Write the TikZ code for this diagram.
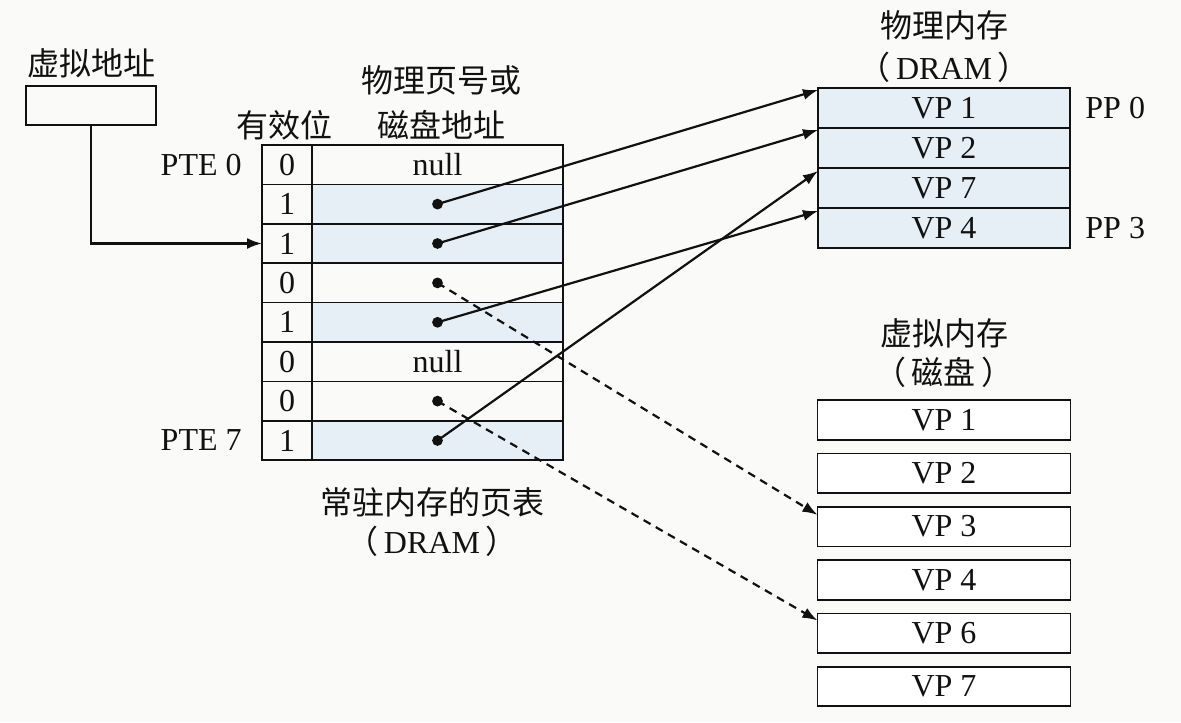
\documentclass[tikz,border=0pt]{standalone}
\usepackage{fontspec}
\setmainfont{Liberation Serif}
\newfontfamily\cjk{Noto Sans CJK SC}
\usetikzlibrary{arrows.meta, positioning}
\definecolor{paper}{HTML}{FAFAF8}
\definecolor{cellblue}{HTML}{E6EFF6}
\definecolor{ink}{HTML}{111111}
\newcommand{\zh}[1]{{\cjk #1}}
\newcommand{\lpar}{\zh{（}\,}
\newcommand{\rpar}{\,\zh{）}}
\tikzset{
  cell/.style={draw=ink, line width=0.85pt, outer sep=0pt, inner sep=0pt, text=ink},
  vbit/.style={cell, minimum width=25pt, minimum height=19.7pt},
  addr/.style={cell, minimum width=125.5pt, minimum height=19.7pt},
  mapped/.style={addr, fill=cellblue},
  ppage/.style={cell, fill=cellblue, minimum width=126pt, minimum height=20pt},
  dpage/.style={cell, fill=white, minimum width=126.5pt, minimum height=19.75pt},
  caption/.style={inner sep=0pt, text=ink},
  ptr/.style={draw=ink, line width=1.1pt, -{Latex[length=7.5pt, width=5.5pt]}},
  ondisk/.style={ptr, dash pattern=on 4pt off 3pt},
}

\begin{document}
\begin{tikzpicture}[x=0.5pt, y=-0.5pt, font=\fontsize{16}{19}\selectfont]
\fill[paper] (0,0) rectangle (1181,722);
\useasboundingbox (0,0) rectangle (1181,722);
% virtual address
\node[caption] (vacap) at (91,63) {\zh{虚拟地址}};
\node[cell, minimum width=65pt, minimum height=19.5pt] (va) at (91,105.5) {};
% page table
\node[caption] (hvalid) at (284,125) {\zh{有效位}};
\node[caption] (haddr1) at (441,80) {\zh{物理页号或}};
\node[caption] (haddr2) at (441,125) {\zh{磁盘地址}};
\node[vbit] (v0) at (287,164.7) {0};
\node[addr, right=0pt of v0] (a0) {null};
\node[vbit, below=0pt of v0] (v1) {1};
\node[mapped, right=0pt of v1] (a1) {};
\node[vbit, below=0pt of v1] (v2) {1};
\node[mapped, right=0pt of v2] (a2) {};
\node[vbit, below=0pt of v2] (v3) {0};
\node[addr, right=0pt of v3] (a3) {};
\node[vbit, below=0pt of v3] (v4) {1};
\node[mapped, right=0pt of v4] (a4) {};
\node[vbit, below=0pt of v4] (v5) {0};
\node[addr, right=0pt of v5] (a5) {null};
\node[vbit, below=0pt of v5] (v6) {0};
\node[addr, right=0pt of v6] (a6) {};
\node[vbit, below=0pt of v6] (v7) {1};
\node[mapped, right=0pt of v7] (a7) {};
\node[caption, left=10pt of v0] (pte0) {PTE 0};
\node[caption, left=10pt of v7] (pte7) {PTE 7};
\node[caption] (ptcap1) at (432,502) {\zh{常驻内存的页表}};
\node[caption] (ptcap2) at (432,541) {\lpar DRAM\rpar};
% physical memory
\node[caption] (pmcap1) at (944,25) {\zh{物理内存}};
\node[caption] (pmcap2) at (944,67) {\lpar DRAM\rpar};
\node[ppage] (p0) at (944,108) {VP 1};
\node[ppage, below=0pt of p0] (p1) {VP 2};
\node[ppage, below=0pt of p1] (p2) {VP 7};
\node[ppage, below=0pt of p2] (p3) {VP 4};
\node[caption, right=7.5pt of p0] (pp0) {PP 0};
\node[caption, right=7.5pt of p3] (pp3) {PP 3};
% virtual memory on disk
\node[caption] (vmcap1) at (944,333) {\zh{虚拟内存}};
\node[caption] (vmcap2) at (944,372) {\lpar\zh{磁盘}\rpar};
\node[dpage] (d0) at (944,420) {VP 1};
\node[dpage, below=6.9pt of d0] (d1) {VP 2};
\node[dpage, below=6.9pt of d1] (d2) {VP 3};
\node[dpage, below=6.9pt of d2] (d3) {VP 4};
\node[dpage, below=6.9pt of d3] (d4) {VP 6};
\node[dpage, below=6.9pt of d4] (d5) {VP 7};
% pointers
\draw[ptr] (va.south) |- (v2.west);
\foreach \r in {1,2,3,4,6,7} \fill[ink] (a\r) circle (2.7pt);
\draw[ptr] (a1.center) -- ([yshift=-1pt]p0.north west);
\draw[ptr] (a2.center) -- ([yshift=-1pt]p1.north west);
\draw[ptr] (a4.center) -- ([yshift=-1.5pt]p3.north west);
\draw[ptr] (a7.center) -- ([yshift=-1.5pt]p2.north west);
\draw[ondisk] (a3.center) -- ([yshift=-4pt]d2.north west);
\draw[ondisk] (a6.center) -- ([yshift=-3.5pt]d4.north west);
\end{tikzpicture}
\end{document}
